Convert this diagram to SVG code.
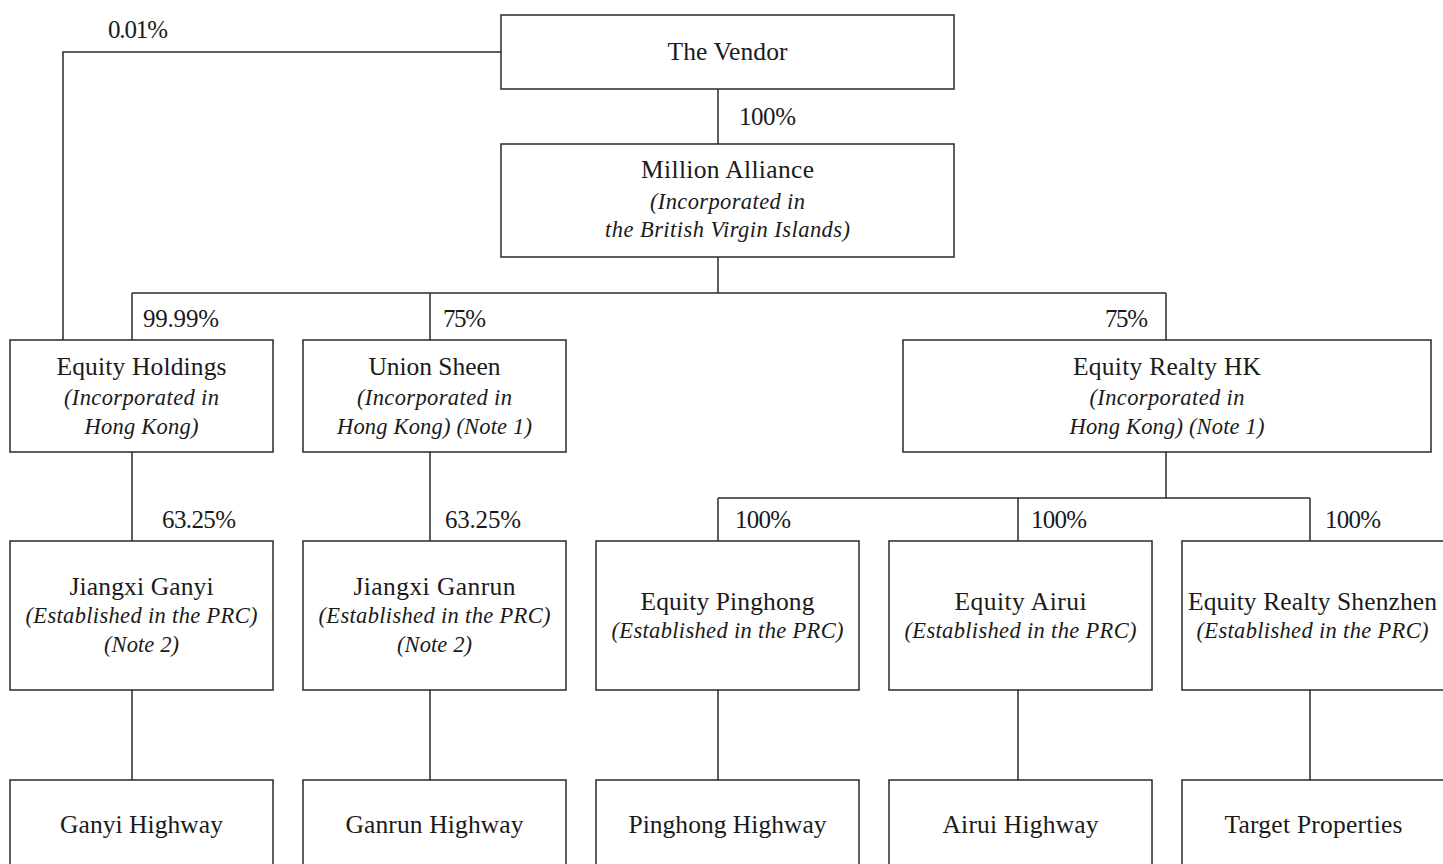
<svg xmlns="http://www.w3.org/2000/svg" width="1443" height="864" viewBox="0 0 1443 864" font-family="'Liberation Serif', 'DejaVu Serif', serif">
<style>
  .box { fill: #ffffff; stroke: #2a2a2a; stroke-width: 1.5; }
  .ln { fill: none; stroke: #2a2a2a; stroke-width: 1.5; }
  text { font-family: 'Liberation Serif', 'Times New Roman', serif; fill: #1a1a1a; }
  .t { font-size: 25.5px; text-anchor: middle; }
  .i { font-size: 22.5px; font-style: italic; text-anchor: middle; }
  .p { font-size: 25px; }
</style>
<rect x="0" y="0" width="1443" height="864" fill="#ffffff"/>
<g id="connectors">
  <polyline class="ln" points="501,52 63,52 63,340"/>
  <line class="ln" x1="718" y1="89" x2="718" y2="144"/>
  <line class="ln" x1="718" y1="257" x2="718" y2="293"/>
  <line class="ln" x1="132" y1="293" x2="1166" y2="293"/>
  <line class="ln" x1="132" y1="293" x2="132" y2="340"/>
  <line class="ln" x1="430" y1="293" x2="430" y2="340"/>
  <line class="ln" x1="1166" y1="293" x2="1166" y2="340"/>
  <line class="ln" x1="132" y1="452" x2="132" y2="541"/>
  <line class="ln" x1="430" y1="452" x2="430" y2="541"/>
  <line class="ln" x1="1166" y1="452" x2="1166" y2="498"/>
  <line class="ln" x1="718" y1="498" x2="1310" y2="498"/>
  <line class="ln" x1="718" y1="498" x2="718" y2="541"/>
  <line class="ln" x1="1018" y1="498" x2="1018" y2="541"/>
  <line class="ln" x1="1310" y1="498" x2="1310" y2="541"/>
  <line class="ln" x1="132" y1="690" x2="132" y2="780"/>
  <line class="ln" x1="430" y1="690" x2="430" y2="780"/>
  <line class="ln" x1="718" y1="690" x2="718" y2="780"/>
  <line class="ln" x1="1018" y1="690" x2="1018" y2="780"/>
  <line class="ln" x1="1310" y1="690" x2="1310" y2="780"/>
  <text class="p" x="108" y="38" textLength="60" lengthAdjust="spacing">0.01%</text>
  <text class="p" x="739" y="125" textLength="57" lengthAdjust="spacing">100%</text>
  <text class="p" x="143" y="327" textLength="76" lengthAdjust="spacing">99.99%</text>
  <text class="p" x="443" y="327" textLength="43" lengthAdjust="spacing">75%</text>
  <text class="p" x="1105" y="327" textLength="43" lengthAdjust="spacing">75%</text>
  <text class="p" x="162" y="528" textLength="74" lengthAdjust="spacing">63.25%</text>
  <text class="p" x="445" y="528" textLength="76" lengthAdjust="spacing">63.25%</text>
  <text class="p" x="735" y="528" textLength="56" lengthAdjust="spacing">100%</text>
  <text class="p" x="1031" y="528" textLength="56" lengthAdjust="spacing">100%</text>
  <text class="p" x="1325" y="528" textLength="56" lengthAdjust="spacing">100%</text>
</g>
<g id="vendor">
  <rect class="box" x="501" y="15" width="453" height="74"/>
  <text class="t" x="727.5" y="60" textLength="120" lengthAdjust="spacing">The Vendor</text>
</g>
<g id="million-alliance">
  <rect class="box" x="501" y="144" width="453" height="113"/>
  <text class="t" x="727.5" y="178" textLength="173" lengthAdjust="spacing">Million Alliance</text>
  <text class="i" x="727.5" y="209" textLength="155" lengthAdjust="spacing">(Incorporated in</text>
  <text class="i" x="727.5" y="237" textLength="245" lengthAdjust="spacing">the British Virgin Islands)</text>
</g>
<g id="equity-holdings">
  <rect class="box" x="10" y="340" width="263" height="112"/>
  <text class="t" x="141.5" y="375" textLength="170" lengthAdjust="spacing">Equity Holdings</text>
  <text class="i" x="141.5" y="405" textLength="155" lengthAdjust="spacing">(Incorporated in</text>
  <text class="i" x="141.5" y="434" textLength="114" lengthAdjust="spacing">Hong Kong)</text>
</g>
<g id="union-sheen">
  <rect class="box" x="303" y="340" width="263" height="112"/>
  <text class="t" x="434.5" y="375" textLength="132" lengthAdjust="spacing">Union Sheen</text>
  <text class="i" x="434.5" y="405" textLength="155" lengthAdjust="spacing">(Incorporated in</text>
  <text class="i" x="434.5" y="434" textLength="195" lengthAdjust="spacing">Hong Kong) (Note 1)</text>
</g>
<g id="equity-realty-hk">
  <rect class="box" x="903" y="340" width="528" height="112"/>
  <text class="t" x="1167" y="375" textLength="188" lengthAdjust="spacing">Equity Realty HK</text>
  <text class="i" x="1167" y="405" textLength="155" lengthAdjust="spacing">(Incorporated in</text>
  <text class="i" x="1167" y="434" textLength="195" lengthAdjust="spacing">Hong Kong) (Note 1)</text>
</g>
<g id="jiangxi-ganyi">
  <rect class="box" x="10" y="541" width="263" height="149"/>
  <text class="t" x="141.5" y="595" textLength="144" lengthAdjust="spacing">Jiangxi Ganyi</text>
  <text class="i" x="141.5" y="623" textLength="232" lengthAdjust="spacing">(Established in the PRC)</text>
  <text class="i" x="141.5" y="652" textLength="75" lengthAdjust="spacing">(Note 2)</text>
</g>
<g id="jiangxi-ganrun">
  <rect class="box" x="303" y="541" width="263" height="149"/>
  <text class="t" x="434.5" y="595" textLength="162" lengthAdjust="spacing">Jiangxi Ganrun</text>
  <text class="i" x="434.5" y="623" textLength="232" lengthAdjust="spacing">(Established in the PRC)</text>
  <text class="i" x="434.5" y="652" textLength="75" lengthAdjust="spacing">(Note 2)</text>
</g>
<g id="equity-pinghong">
  <rect class="box" x="596" y="541" width="263" height="149"/>
  <text class="t" x="727.5" y="610" textLength="174" lengthAdjust="spacing">Equity Pinghong</text>
  <text class="i" x="727.5" y="638" textLength="232" lengthAdjust="spacing">(Established in the PRC)</text>
</g>
<g id="equity-airui">
  <rect class="box" x="889" y="541" width="263" height="149"/>
  <text class="t" x="1020.5" y="610" textLength="132" lengthAdjust="spacing">Equity Airui</text>
  <text class="i" x="1020.5" y="638" textLength="232" lengthAdjust="spacing">(Established in the PRC)</text>
</g>
<g id="equity-realty-shenzhen">
  <rect class="box" x="1182" y="541" width="264" height="149"/>
  <text class="t" x="1312.5" y="610" textLength="249" lengthAdjust="spacing">Equity Realty Shenzhen</text>
  <text class="i" x="1312.5" y="638" textLength="232" lengthAdjust="spacing">(Established in the PRC)</text>
</g>
<g id="ganyi-highway">
  <rect class="box" x="10" y="780" width="263" height="149"/>
  <text class="t" x="141.5" y="833" textLength="163" lengthAdjust="spacing">Ganyi Highway</text>
</g>
<g id="ganrun-highway">
  <rect class="box" x="303" y="780" width="263" height="149"/>
  <text class="t" x="434.5" y="833" textLength="178" lengthAdjust="spacing">Ganrun Highway</text>
</g>
<g id="pinghong-highway">
  <rect class="box" x="596" y="780" width="263" height="149"/>
  <text class="t" x="727.5" y="833" textLength="198" lengthAdjust="spacing">Pinghong Highway</text>
</g>
<g id="airui-highway">
  <rect class="box" x="889" y="780" width="263" height="149"/>
  <text class="t" x="1020.5" y="833" textLength="156" lengthAdjust="spacing">Airui Highway</text>
</g>
<g id="target-properties">
  <rect class="box" x="1182" y="780" width="264" height="149"/>
  <text class="t" x="1313.5" y="833" textLength="178" lengthAdjust="spacing">Target Properties</text>
</g>
</svg>
